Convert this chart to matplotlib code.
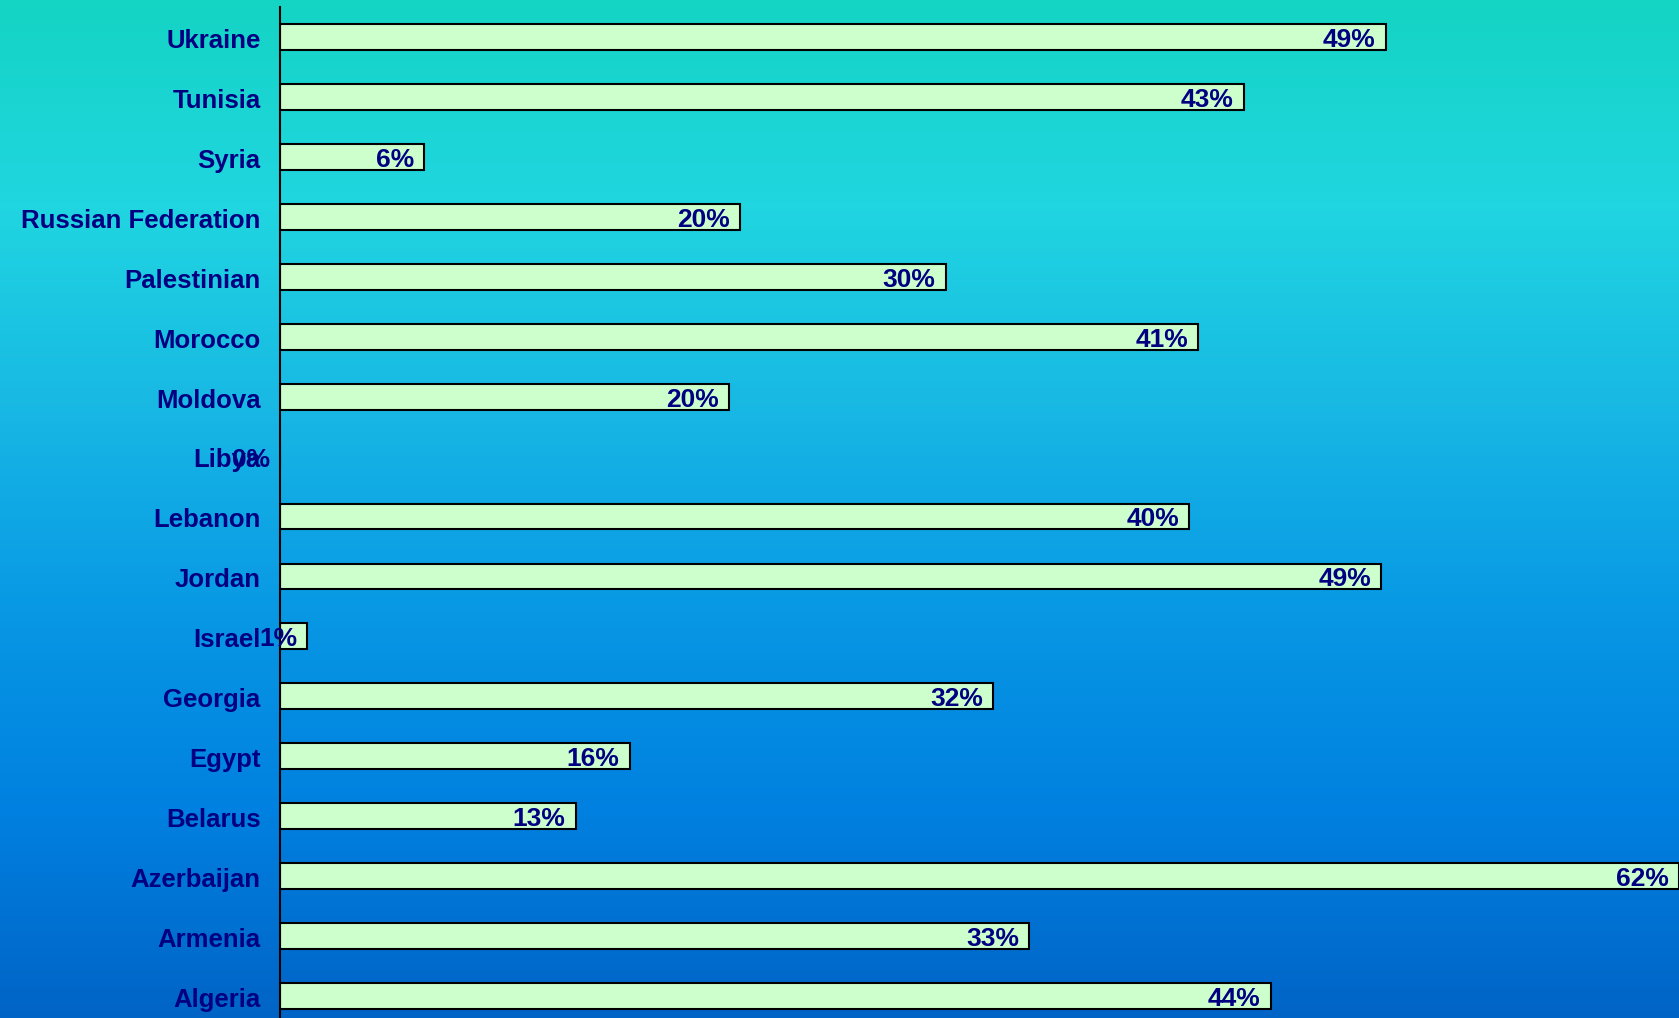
import numpy as np
import matplotlib.pyplot as plt
import matplotlib.transforms as mtransforms
from matplotlib.colors import LinearSegmentedColormap

countries = ["Algeria", "Armenia", "Azerbaijan", "Belarus", "Egypt", "Georgia",
             "Israel", "Jordan", "Lebanon", "Libya", "Moldova", "Morocco",
             "Palestinian", "Russian Federation", "Syria", "Tunisia", "Ukraine"]
values = [43.9, 33.2, 62.0, 13.1, 15.5, 31.6,
          1.2, 48.8, 40.3, 0.0, 19.9, 40.7,
          29.5, 20.4, 6.4, 42.7, 49.0]
labels = ["44%", "33%", "62%", "13%", "16%", "32%",
          "1%", "49%", "40%", "0%", "20%", "41%",
          "30%", "20%", "6%", "43%", "49%"]

navy = "#000080"
bar_col = "#CCFFCC"

fig = plt.figure(figsize=(16.79, 10.18), dpi=100)

# background gradient
bg = fig.add_axes([0, 0, 1, 1], zorder=0)
grad_cols = ["#14D4C4", "#20D6E0", "#18B8E4", "#0898E4", "#0080E0", "#0064C6"]
cmap = LinearSegmentedColormap.from_list("bg", grad_cols)
bg.imshow(np.linspace(0, 1, 256).reshape(-1, 1), aspect="auto", cmap=cmap,
          extent=[0, 1, 0, 1], origin="upper")
bg.axis("off")

ax = fig.add_axes([280 / 1679, -8 / 1018, 1 - 280 / 1679, 1019 / 1018], zorder=1)
ax.patch.set_alpha(0)

y = np.arange(len(countries))
ax.barh(y, values, height=0.43, color=bar_col, edgecolor="black", linewidth=1.5)

for yi, v, lab in zip(y, values, labels):
    ax.annotate(lab, xy=(v, yi), xytext=(-10, -3), textcoords="offset pixels",
                ha="right", va="center", color=navy, fontsize=19,
                fontweight="bold", family="Liberation Sans")

ax.set_xlim(0, 62)
ax.set_ylim(-0.5, len(countries) - 0.5)
ax.set_yticks(y)
ax.set_yticklabels(countries, color=navy, fontsize=18.5, fontweight="bold",
                   family="Liberation Sans")
ax.tick_params(axis="y", length=0, pad=14)
shift = mtransforms.ScaledTranslation(0, -1 / 72, fig.dpi_scale_trans)
for t in ax.get_yticklabels():
    t.set_transform(t.get_transform() + shift)
ax.set_xticks([])
for s in ["top", "right", "bottom"]:
    ax.spines[s].set_visible(False)
ax.spines["left"].set_linewidth(1.5)
ax.spines["left"].set_color("black")

fig.savefig("out.png", dpi=100)
